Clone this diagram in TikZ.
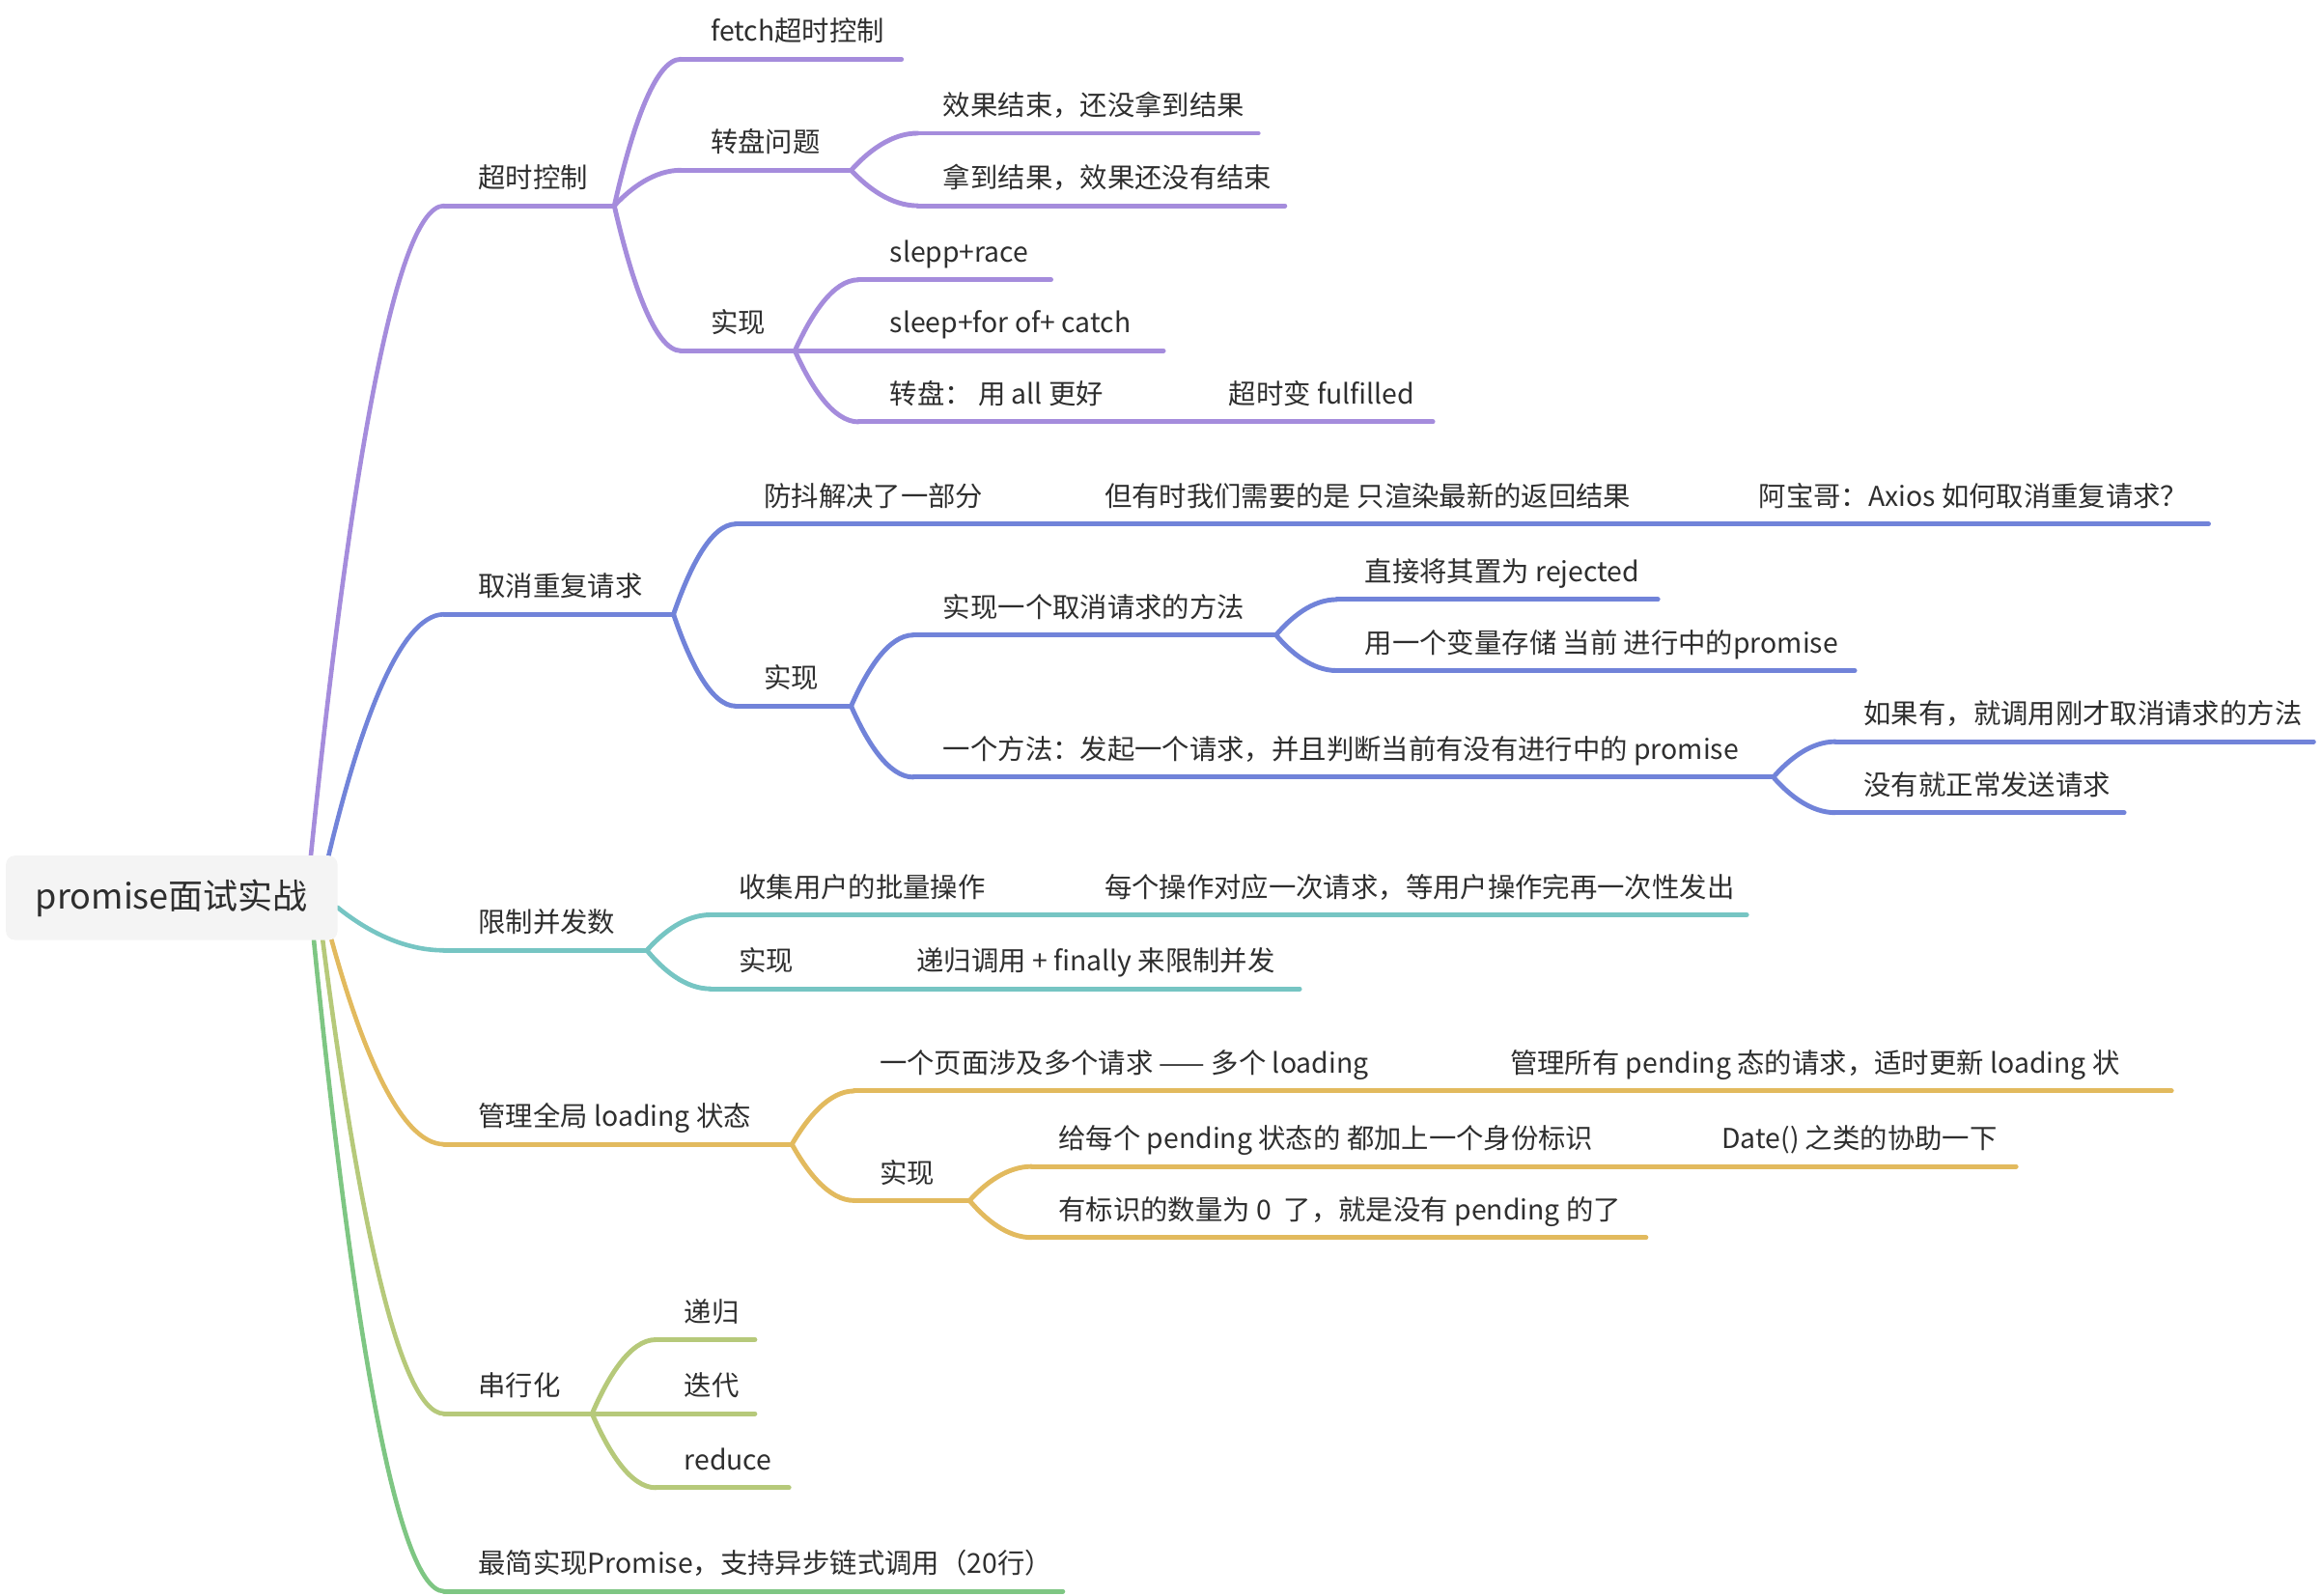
\documentclass[tikz,border=0pt]{standalone}
\usepackage{fontspec}
\setmainfont{Noto Sans CJK SC}
\usetikzlibrary{calc}
\definecolor{cP}{HTML}{A58CDC}
\definecolor{cB}{HTML}{7183D9}
\definecolor{cT}{HTML}{76C5C3}
\definecolor{cG}{HTML}{E2BA5E}
\definecolor{cY}{HTML}{B6C97A}
\definecolor{cN}{HTML}{7EC683}
\definecolor{txt}{HTML}{2E2E2E}
\definecolor{rootfill}{HTML}{F4F4F4}
\tikzset{
  lbl/.style={inner sep=0pt, anchor=base west, text=txt, font=\fontsize{18.5}{20}\selectfont},
  ln/.style={line width=3.2pt, line cap=round},
  rln/.style={line width=3pt, line cap=round},
  rootbox/.style={fill=rootfill, rounded corners=6pt, minimum width=224pt, minimum height=57pt, inner sep=0pt, text=txt, font=\fontsize{23.5}{25}\selectfont},
}
\newcommand\mmtopic[7]{%
  \coordinate (#1s) at (#3,-#5);
  \coordinate (#1e) at (#4,-#5);
  \node[lbl] (#1) at (#6,{-#5+12}) {#7};
  \draw[ln,#2] (#1s) -- (#1e);
}
\newcommand\mmlink[3]{%
  \draw[ln,#1] let \p1=(#2), \p2=(#3) in (\p1) .. controls ({\x1+0.25*(\x2-\x1)},{\y1+0.5*(\y2-\y1)}) and ({\x2-0.4*(\x2-\x1)},\y2) .. (\p2);
}
\begin{document}
\begin{tikzpicture}[x=1pt,y=1pt]
\useasboundingbox (0,0) rectangle (1568,-1077.6);

% root connectors start points
\coordinate (r1) at (210,-578);
\coordinate (r2) at (222,-578);
\coordinate (r3) at (228,-613);
\coordinate (r4) at (224,-635);
\coordinate (r5) at (218,-635);
\coordinate (r6) at (212,-635);

% ---------- purple: 超时控制 ----------
\mmtopic{A}{cP}{300}{415}{139}{323}{超时控制}
\mmtopic{A1}{cP}{460}{609}{40}{480}{fetch超时控制}
\mmtopic{A2}{cP}{460}{575}{115}{480}{转盘问题}
\mmtopic{A21}{cP}{620}{850}{90}{637}{效果结束，还没拿到结果}
\mmtopic{A22}{cP}{620}{868}{139}{637}{拿到结果，效果还没有结束}
\mmtopic{A3}{cP}{460}{537}{237}{480}{实现}
\mmtopic{A31}{cP}{580}{710}{189}{601}{slepp+race}
\mmtopic{A32}{cP}{580}{786}{237}{601}{sleep+for of+ catch}
\mmtopic{A33}{cP}{580}{968}{285}{601}{转盘： 用 all 更好}
\node[lbl] (A33b) at (830,{-285+12}) {超时变 fulfilled};
\mmlink{cP,rln}{r1}{As}
\mmlink{cP}{Ae}{A1s}
\mmlink{cP}{Ae}{A2s}
\mmlink{cP}{Ae}{A3s}
\mmlink{cP}{A2e}{A21s}
\mmlink{cP}{A2e}{A22s}
\mmlink{cP}{A3e}{A31s}
\mmlink{cP}{A3e}{A32s}
\mmlink{cP}{A3e}{A33s}

% ---------- blue: 取消重复请求 ----------
\mmtopic{B}{cB}{300}{455}{415}{323}{取消重复请求}
\mmtopic{B1}{cB}{497}{1492}{354}{516}{防抖解决了一部分}
\node[lbl] (B1b) at (746,{-354+12}) {但有时我们需要的是 只渲染最新的返回结果};
\node[lbl] (B1c) at (1188,{-354+12}) {阿宝哥：Axios 如何取消重复请求？};
\mmtopic{B2}{cB}{497}{575}{477}{516}{实现}
\mmtopic{B21}{cB}{617}{862}{429}{637}{实现一个取消请求的方法}
\mmtopic{B211}{cB}{903}{1120}{405}{922}{直接将其置为 rejected}
\mmtopic{B212}{cB}{903}{1253}{453}{922}{用一个变量存储 当前 进行中的promise}
\mmtopic{B22}{cB}{617}{1198}{525}{637}{一个方法：发起一个请求，并且判断当前有没有进行中的 promise}
\mmtopic{B221}{cB}{1240}{1563}{501}{1259}{如果有，就调用刚才取消请求的方法}
\mmtopic{B222}{cB}{1240}{1435}{549}{1259}{没有就正常发送请求}
\mmlink{cB,rln}{r2}{Bs}
\mmlink{cB}{Be}{B1s}
\mmlink{cB}{Be}{B2s}
\mmlink{cB}{B2e}{B21s}
\mmlink{cB}{B2e}{B22s}
\mmlink{cB}{B21e}{B211s}
\mmlink{cB}{B21e}{B212s}
\mmlink{cB}{B22e}{B221s}
\mmlink{cB}{B22e}{B222s}

% ---------- teal: 限制并发数 ----------
\mmtopic{C}{cT}{300}{437}{642}{323}{限制并发数}
\mmtopic{C1}{cT}{480}{1180}{618}{499}{收集用户的批量操作}
\node[lbl] (C1b) at (746,{-618+12}) {每个操作对应一次请求，等用户操作完再一次性发出};
\mmtopic{C2}{cT}{480}{878}{668}{499}{实现}
\node[lbl] (C2b) at (619,{-668+12}) {递归调用 + finally 来限制并发};
\mmlink{cT,rln}{r3}{Cs}
\mmlink{cT}{Ce}{C1s}
\mmlink{cT}{Ce}{C2s}

% ---------- gold: 管理全局 loading 状态 ----------
\mmtopic{D}{cG}{300}{535}{773}{323}{管理全局 loading 状态}
\mmtopic{D1}{cG}{577}{1467}{737}{594}{一个页面涉及多个请求 —— 多个 loading}
\node[lbl] (D1b) at (1020,{-737+12}) {管理所有 pending 态的请求，适时更新 loading 状};
\mmtopic{D2}{cG}{577}{655}{811}{594}{实现}
\mmtopic{D21}{cG}{697}{1362}{788}{715}{给每个 pending 状态的 都加上一个身份标识}
\node[lbl] (D21b) at (1163,{-788+12}) {Date() 之类的协助一下};
\mmtopic{D22}{cG}{697}{1112}{836}{715}{有标识的数量为 0 \ 了，就是没有 pending 的了}
\mmlink{cG,rln}{r4}{Ds}
\mmlink{cG}{De}{D1s}
\mmlink{cG}{De}{D2s}
\mmlink{cG}{D2e}{D21s}
\mmlink{cG}{D2e}{D22s}

% ---------- yellow-green: 串行化 ----------
\mmtopic{E}{cY}{300}{400}{955}{323}{串行化}
\mmtopic{E1}{cY}{443}{510}{905}{462}{递归}
\mmtopic{E2}{cY}{443}{510}{955}{462}{迭代}
\mmtopic{E3}{cY}{443}{533}{1005}{462}{reduce}
\mmlink{cY,rln}{r5}{Es}
\mmlink{cY}{Ee}{E1s}
\mmlink{cY}{Ee}{E2s}
\mmlink{cY}{Ee}{E3s}

% ---------- green ----------
\mmtopic{F}{cN}{300}{718}{1075}{323}{最简实现Promise，支持异步链式调用（20行）}
\mmlink{cN,rln}{r6}{Fs}

% root
\node[rootbox] (root) at (116,-606.5) {promise面试实战};
\end{tikzpicture}
\end{document}
